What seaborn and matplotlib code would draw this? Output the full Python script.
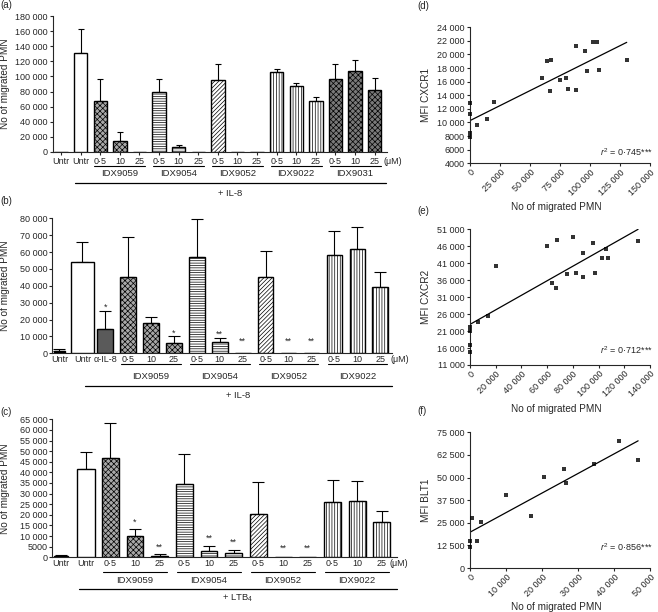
import numpy as np
import pandas as pd
import matplotlib
matplotlib.use('Agg')
import matplotlib.pyplot as plt
import matplotlib.transforms as mtransforms
from matplotlib.ticker import FuncFormatter, MultipleLocator
import seaborn as sns

# ---------------- data ----------------
doses = ['0·5', '10', '25']
groups_a = ['IDX9059', 'IDX9054', 'IDX9052', 'IDX9022', 'IDX9031']
groups_bc = ['IDX9059', 'IDX9054', 'IDX9052', 'IDX9022']

# (a) + IL-8
a_keys = ['untr0', 'untr'] + [f'{g} {d}' for g in groups_a for d in doses]
a_labels = ['Untr', 'Untr'] + doses * 5
a_mean = [0, 131000, 68000, 14500, 0, 80000, 6000, 0, 95500, 0, 0,
          105500, 87500, 67000, 96500, 107500, 82500]
a_sem = [0, 32500, 29000, 12000, 0, 17000, 3000, 0, 20500, 0, 0,
         5000, 4000, 6000, 20000, 14000, 16000]
a_sig = [''] * 17

# (b) + IL-8, with anti-IL-8
b_keys = ['untr0', 'untr', 'aIL8'] + [f'{g} {d}' for g in groups_bc for d in doses]
b_labels = ['Untr', 'Untr', 'α-IL-8'] + doses * 4
b_mean = [1600, 54000, 14500, 45000, 18000, 6300, 57000, 6900, 0,
          45500, 0, 0, 58000, 62000, 39300]
b_sem = [1200, 11800, 10800, 24000, 3500, 3800, 22500, 2400, 0,
         15200, 0, 0, 14400, 13000, 9100]
b_sig = ['', '', '*', '', '', '*', '', '**', '**', '', '**', '**', '', '', '']

# (c) + LTB4
c_keys = ['untr0', 'untr'] + [f'{g} {d}' for g in groups_bc for d in doses]
c_labels = ['Untr', 'Untr'] + doses * 4
c_mean = [800, 41500, 46600, 10200, 800, 34400, 3000, 1900, 20600, 0, 0,
          26100, 26500, 16800]
c_sem = [450, 8300, 16500, 3000, 600, 14300, 2500, 1700, 15000, 0, 0,
         10300, 9600, 5200]
c_sig = ['', '', '', '*', '**', '', '**', '**', '', '**', '**', '', '', '']

# (d) MFI CXCR1 vs migrated PMN
d_x = [0, 0, 0, 0, 6200, 14000, 19700, 59700, 63900, 66900, 67500, 75300,
       80000, 81900, 88000, 88000, 95600, 97200, 102200, 105800, 107800, 130600]
d_y = [12900, 11200, 8400, 7800, 9650, 10500, 13000, 16600, 19000, 14600, 19200,
       16200, 16600, 14900, 21300, 14800, 20500, 17500, 21800, 21800, 17700, 19200]
d_r2 = '0·745'

# (e) MFI CXCR2 vs migrated PMN
e_x = [0, 0, 0, 0, 6200, 14200, 19970, 59600, 63800, 67200, 67400, 75500,
       80100, 82200, 88200, 88200, 95400, 97000, 102400, 105800, 107600, 130700]
e_y = [22300, 21000, 16800, 14700, 23600, 25500, 40300, 46000, 35100, 33700, 47800,
       37800, 48700, 38000, 44100, 36900, 46900, 38200, 42400, 45100, 42600, 47600]
e_r2 = '0·712'

# (f) MFI BLT1 vs migrated PMN
f_x = [0, 0, 460, 2040, 3000, 10000, 16850, 20560, 26100, 26600, 34450, 41500, 46700]
f_y = [15100, 11800, 27900, 15100, 25600, 40100, 28700, 50500, 54700, 46900,
       57500, 70400, 59700]
f_r2 = '0·856'

# ---------------- style ----------------
sns.set_style('ticks')
plt.rcParams['font.family'] = ['Liberation Sans', 'DejaVu Sans']
plt.rcParams['mathtext.fontset'] = 'custom'
plt.rcParams['mathtext.rm'] = 'Liberation Sans'
plt.rcParams['mathtext.it'] = 'Liberation Sans:italic'
plt.rcParams['hatch.linewidth'] = 0.5
plt.rcParams['axes.linewidth'] = 0.8
plt.rcParams['xtick.major.width'] = 0.8
plt.rcParams['ytick.major.width'] = 0.8

TICK_FS = 6.5
LABEL_FS = 7.2
GROUP_FS = 6.8

STYLES = {
    'untr0': ('black', ''),
    'untr': ('white', ''),
    'aIL8': ('#5a5a5a', ''),
    'IDX9059': ('#a8a8a8', 'xxxxxx'),
    'IDX9054': ('white', '-------'),
    'IDX9052': ('white', '////////'),
    'IDX9022': ('white', '||||||'),
    'IDX9031': ('#7a7a7a', 'xxxxxx'),
}


def thousands(v, pos=None):
    v = int(round(v))
    if abs(v) >= 10000:
        return f'{v:,}'.replace(',', ' ')
    return str(v)


def below(ax, pts):
    base = mtransforms.blended_transform_factory(ax.transData, ax.transAxes)
    return base + mtransforms.ScaledTranslation(0, -pts / 72, ax.figure.dpi_scale_trans)


def bar_panel(ax, keys, labels, means, sems, sig, groups, treat, ymax, ystep,
              xlim, cfg):
    df = pd.DataFrame({'cond': keys, 'mean': means})
    sns.barplot(data=df, x='cond', y='mean', order=keys, errorbar=None,
                width=0.68, color='white', edgecolor='black', linewidth=1.0,
                ax=ax, zorder=3)
    for i, (patch, key) in enumerate(zip(ax.patches, keys)):
        fc, hatch = STYLES[key.split(' ')[0]]
        patch.set_facecolor(fc)
        patch.set_hatch(hatch)
        patch.set_edgecolor('black')
        if key in cfg['widths']:
            w = cfg['widths'][key]
            patch.set_x(i - w / 2)
            patch.set_width(w)

    n = len(keys)
    xs = np.arange(n)
    m = np.array(means, float)
    s = np.array(sems, float)
    has = s > 0
    ax.errorbar(xs[has], m[has], yerr=[np.zeros(has.sum()), s[has]], fmt='none',
                ecolor='black', elinewidth=0.8, capsize=cfg['cap'], capthick=0.8,
                zorder=2)

    for i, st in enumerate(sig):
        if not st:
            continue
        off = cfg['star_zero'] if m[i] == 0 else cfg['star_pad']
        ax.annotate(st, (i, m[i] + s[i]), xytext=(0, off), textcoords='offset points',
                    ha='center', va='baseline', fontsize=TICK_FS)

    ax.set_xlim(*xlim)
    ax.set_ylim(0, ymax)
    ax.yaxis.set_major_locator(MultipleLocator(ystep))
    ax.yaxis.set_major_formatter(FuncFormatter(thousands))
    ax.set_xticks(xs)
    ax.set_xticklabels(labels)
    ax.tick_params(axis='x', length=cfg['xtick_len'], pad=cfg['xtick_pad'],
                   labelsize=TICK_FS)
    ax.tick_params(axis='y', length=2.2, pad=1.5, labelsize=TICK_FS)
    ax.set_xlabel('')
    ax.set_ylabel('No of migrated PMN', fontsize=LABEL_FS)
    ax.yaxis.set_label_coords(cfg['ylab_x'], 0.5)
    sns.despine(ax=ax)

    # unit label after last dose
    ax.annotate('(μM)', (n - 1, 0), xycoords=below(ax, cfg['tick_c']),
                xytext=(cfg['um_dx'], 0), textcoords='offset points',
                ha='center', va='center', fontsize=TICK_FS)

    # group underlines and names
    first = n - 3 * len(groups)
    for gi, g in enumerate(groups):
        c = first + 3 * gi + 1
        ax.plot([c - 1.3, c + 1.3], [0, 0], transform=below(ax, cfg['uline']),
                color='black', lw=0.8, clip_on=False)
        ax.text(c, 0, g, transform=below(ax, cfg['gname']), ha='center',
                va='center', fontsize=GROUP_FS)

    # treatment line
    x0, x1 = cfg['tline']
    ax.plot([x0, x1], [0, 0], transform=below(ax, cfg['tline_y']), color='black',
            lw=0.9, clip_on=False)
    ax.text((x0 + x1) / 2, 0, treat, transform=below(ax, cfg['treat_y']),
            ha='center', va='center', fontsize=GROUP_FS)


def scatter_panel(ax, x, y, xmax, xstep, ylim, ystep, ylabel, r2, r2_y, xlab_y):
    sns.regplot(x=np.array(x, float), y=np.array(y, float), ax=ax, ci=None,
                color='black', marker='s', truncate=True,
                scatter_kws={'s': 7, 'clip_on': False, 'linewidths': 0, 'zorder': 4},
                line_kws={'lw': 0.9})
    ax.set_xlim(0, xmax)
    ax.set_ylim(*ylim)
    ax.set_xticks(np.arange(0, xmax + 1, xstep))
    ax.set_yticks(np.arange(ylim[0], ylim[1] + 1, ystep))
    ax.xaxis.set_major_formatter(FuncFormatter(thousands))
    ax.yaxis.set_major_formatter(FuncFormatter(thousands))
    ax.tick_params(axis='both', length=2.2, labelsize=TICK_FS)
    ax.tick_params(axis='y', pad=1.5)
    ax.tick_params(axis='x', pad=1.0)
    for lab in ax.get_xticklabels():
        lab.set_rotation(45)
        lab.set_ha('right')
        lab.set_va('top')
        lab.set_rotation_mode('anchor')
    ax.set_ylabel(ylabel, fontsize=LABEL_FS)
    ax.yaxis.set_label_coords(-0.217, 0.5)
    ax.set_xlabel('No of migrated PMN', fontsize=LABEL_FS)
    ax.xaxis.set_label_coords(0.48, xlab_y)
    ax.text(1.018, r2_y, r'$r^2$ = ' + r2 + '***', transform=ax.transAxes,
            ha='right', va='center', fontsize=TICK_FS, clip_on=False)
    sns.despine(ax=ax)


W, H = 658, 612
fig = plt.figure(figsize=(W / 100, H / 100), dpi=100)


def px_axes(left, top, right, bottom):
    return fig.add_axes([left / W, 1 - bottom / H, (right - left) / W, (bottom - top) / H])


ax_a = px_axes(53, 16.3, 387, 151.7)
ax_b = px_axes(52.3, 218.3, 391.7, 353.3)
ax_c = px_axes(52.3, 419.3, 396.7, 557.3)
ax_d = px_axes(470, 27.3, 650, 163.3)
ax_e = px_axes(470, 229.3, 650, 365)
ax_f = px_axes(470, 432.3, 650, 568)

bar_panel(ax_a, a_keys, a_labels, a_mean, a_sem, a_sig, groups_a, '+ IL-8',
          180000, 20000, (-0.41, 16.63),
          dict(widths={}, cap=2.4, star_pad=1, star_zero=7, xtick_len=2.2,
               xtick_pad=1.6, tick_c=7.4, um_dx=13, uline=10.1, gname=15.8,
               tline=(0.7, 16.6), tline_y=22.3, treat_y=30, ylab_x=-0.13))
bar_panel(ax_b, b_keys, b_labels, b_mean, b_sem, b_sig, groups_bc, '+ IL-8',
          80000, 10000, (-0.31, 14.5),
          dict(widths={'untr0': 0.51, 'untr': 1.0}, cap=4, star_pad=0.7,
               star_zero=7, xtick_len=0, xtick_pad=1.0, tick_c=4.3, um_dx=14,
               uline=7.4, gname=16.8, tline=(1.1, 14.5), tline_y=23.3,
               treat_y=30.7, ylab_x=-0.126))
bar_panel(ax_c, c_keys, c_labels, c_mean, c_sem, c_sig, groups_bc, '+ LTB$_4$',
          65000, 5000, (-0.35, 13.6),
          dict(widths={'untr0': 0.57, 'untr': 0.73}, cap=4.5, star_pad=3.6,
               star_zero=4.5, xtick_len=0, xtick_pad=1.0, tick_c=4.3, um_dx=12.5,
               uline=10.3, gname=16.8, tline=(0.75, 13.6), tline_y=23,
               treat_y=29.5, ylab_x=-0.124))

scatter_panel(ax_d, d_x, d_y, 150000, 25000, (4000, 24000), 2000, 'MFI CXCR1',
              d_r2, 0.085, -0.285)
scatter_panel(ax_e, e_x, e_y, 140000, 20000, (11000, 51000), 5000, 'MFI CXCR2',
              e_r2, 0.11, -0.284)
scatter_panel(ax_f, f_x, f_y, 50000, 10000, (0, 75000), 12500, 'MFI BLT1',
              f_r2, 0.157, -0.25)

for letter, (px, py) in {'(a)': (6, 5), '(b)': (6, 201), '(c)': (6, 411.7),
                         '(d)': (423.3, 6.3), '(e)': (423.3, 210.8),
                         '(f)': (422, 410.8)}.items():
    fig.text(px / W, 1 - py / H, letter, ha='center', va='center', fontsize=7)

fig.savefig('out.png', dpi=100)
